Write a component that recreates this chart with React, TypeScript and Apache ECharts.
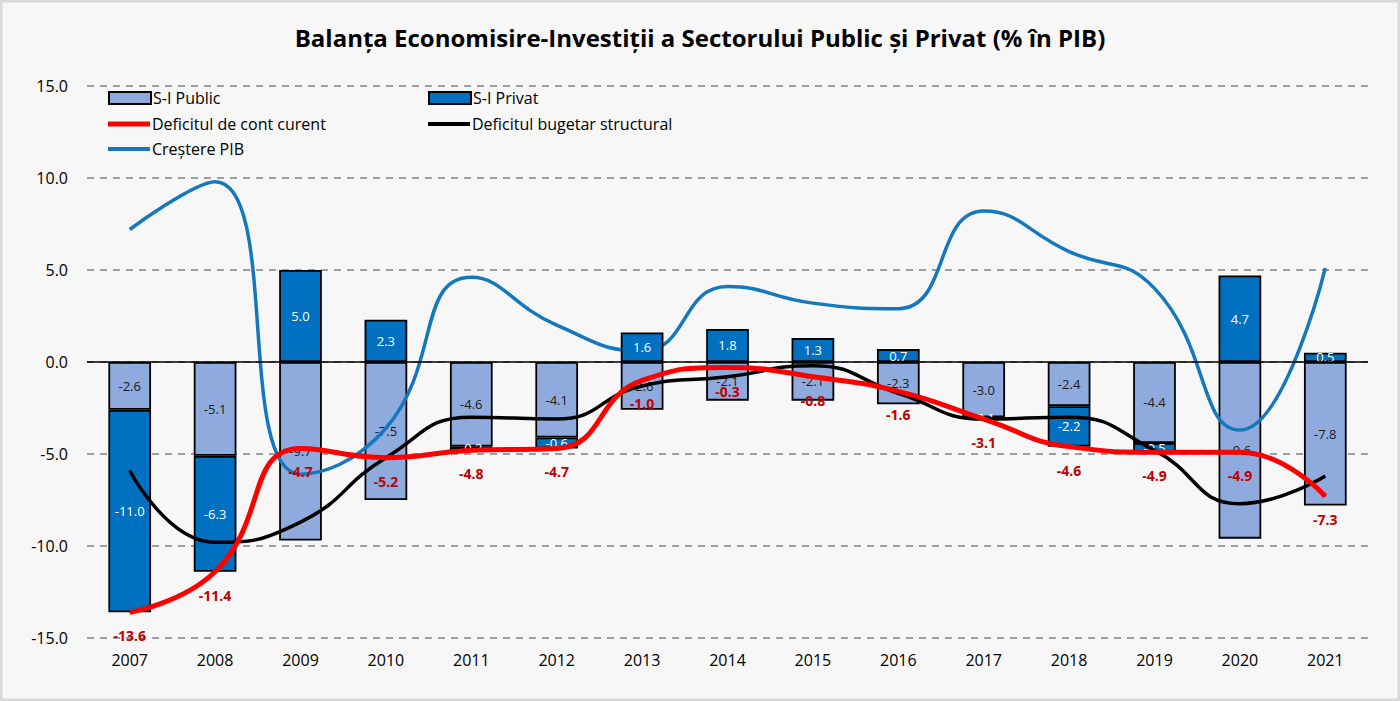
import React, { useEffect, useRef } from "react";
import * as echarts from "echarts";

const years = ["2007","2008","2009","2010","2011","2012","2013","2014","2015","2016","2017","2018","2019","2020","2021"];
const siPublic = [-2.6,-5.1,-9.7,-7.5,-4.6,-4.1,-2.6,-2.1,-2.1,-2.3,-3.0,-2.4,-4.4,-9.6,-7.8];
const siPrivat = [-11.0,-6.3,5.0,2.3,-0.2,-0.6,1.6,1.8,1.3,0.7,-0.1,-2.2,-0.5,4.7,0.5];
const contCurent = [-13.6,-11.4,-4.7,-5.2,-4.8,-4.7,-1.0,-0.3,-0.8,-1.6,-3.1,-4.6,-4.9,-4.9,-7.3];
const bugetStructural = [-5.9,-9.8,-8.7,-5.2,-3.0,-3.1,-1.3,-0.8,-0.2,-1.7,-3.1,-3.0,-4.8,-7.7,-6.2];
const crestPIB = [7.2,9.8,-6.1,-3.6,4.6,2.0,0.6,4.1,3.2,2.9,8.2,6.0,4.0,-3.7,5.1];
const yTicks = { min: -15, max: 15, interval: 5 };

const TITLE = "Balanța Economisire-Investiții a Sectorului Public și Privat (% în PIB)";
const FONT = "'Open Sans', Lato, sans-serif";

export default function App() {
  const ref = useRef<HTMLDivElement>(null);
  useEffect(() => {
    document.body.style.margin = "0";
    if (!ref.current) return;
    const chart = echarts.init(ref.current, undefined, { renderer: "svg" });
    const legendBase = {
      orient: "horizontal",
      itemWidth: 42,
      itemHeight: 12,
      padding: 0,
      selectedMode: false,
      textStyle: { color: "#000", fontSize: 16, fontFamily: FONT, padding: [0, 0, 0, -3] },
    };
    chart.setOption({
      animation: false,
      backgroundColor: "#F7F7F7",
      textStyle: { fontFamily: FONT },
      title: {
        text: TITLE,
        left: "center",
        top: 20,
        textStyle: { fontSize: 24, fontWeight: "bold", color: "#000", fontFamily: FONT },
      },
      graphic: [
        {
          type: "rect",
          shape: { x: 1, y: 1, width: 1398, height: 699 },
          style: { fill: "none", stroke: "#D9D9D9", lineWidth: 3 },
          silent: true,
        },
      ],
      legend: [
        { ...legendBase, left: 108, top: 90, data: [{ name: "S-I Public", icon: "rect" }] },
        { ...legendBase, left: 428, top: 90, data: [{ name: "S-I Privat", icon: "rect" }] },
        { ...legendBase, left: 108, top: 116, data: [{ name: "Deficitul de cont curent", icon: "path://M0,0H42V5H0Z" }] },
        { ...legendBase, left: 428, top: 116, data: [{ name: "Deficitul bugetar structural", icon: "path://M0,0H42V4H0Z" }] },
        { ...legendBase, left: 108, top: 141, data: [{ name: "Creștere PIB", icon: "path://M0,0H42V4H0Z" }] },
      ],
      grid: { left: 87, right: 32, top: 86, bottom: 63, containLabel: false },
      xAxis: {
        type: "category",
        data: years,
        boundaryGap: true,
        axisLine: { show: false },
        axisTick: { show: false },
        axisLabel: { color: "#000", fontSize: 16, margin: 14, fontFamily: FONT },
      },
      yAxis: {
        type: "value",
        min: yTicks.min,
        max: yTicks.max,
        interval: yTicks.interval,
        axisLine: { show: false },
        axisTick: { show: false },
        axisLabel: {
          color: "#000",
          fontSize: 16,
          margin: 19,
          fontFamily: FONT,
          formatter: (v: number) => v.toFixed(1),
        },
        splitLine: { lineStyle: { color: "#808080", width: 1.5, type: [7, 6] } },
      },
      series: [
        {
          name: "S-I Public",
          type: "bar",
          stack: "si",
          barWidth: "50%",
          z: 2,
          data: siPublic,
          itemStyle: { color: "#8FAADC", borderColor: "#000", borderWidth: 1.8 },
          label: {
            show: true,
            position: "inside",
            color: "#1a1a1a",
            fontSize: 13,
            fontFamily: FONT,
            formatter: (p: any) => Number(p.value).toFixed(1),
          },
          markLine: {
            silent: true,
            symbol: "none",
            label: { show: false },
            lineStyle: { color: "#000", type: "solid", width: 1.5 },
            data: [{ yAxis: 0 }],
          },
        },
        {
          name: "S-I Privat",
          type: "bar",
          stack: "si",
          barWidth: "50%",
          z: 4,
          data: siPrivat,
          itemStyle: { color: "#0070C0", borderColor: "#000", borderWidth: 1.8 },
          label: {
            show: true,
            position: "inside",
            color: "#fff",
            fontSize: 13,
            fontFamily: FONT,
            formatter: (p: any) => Number(p.value).toFixed(1),
          },
        },
        {
          name: "Creștere PIB",
          type: "line",
          z: 3,
          data: crestPIB,
          smooth: 0.5,
          symbol: "none",
          itemStyle: { color: "#1577BE" },
          lineStyle: { color: "#1577BE", width: 3.5 },
        },
        {
          name: "Deficitul bugetar structural",
          type: "line",
          z: 5,
          data: bugetStructural,
          smooth: 0.5,
          symbol: "none",
          itemStyle: { color: "#000" },
          lineStyle: { color: "#000", width: 3.5 },
        },
        {
          name: "Deficitul de cont curent",
          type: "line",
          z: 6,
          data: contCurent,
          smooth: 0.5,
          symbol: "circle",
          symbolSize: 1,
          showSymbol: true,
          itemStyle: { color: "#FF0000" },
          lineStyle: { color: "#FF0000", width: 5 },
          label: {
            show: true,
            position: "bottom",
            distance: 16,
            color: "#C00000",
            fontSize: 14,
            fontWeight: "bold",
            fontFamily: FONT,
            formatter: (p: any) => Number(p.value).toFixed(1),
          },
        },
      ],
    });
    return () => chart.dispose();
  }, []);
  return <div ref={ref} style={{ width: 1400, height: 701 }} />;
}
